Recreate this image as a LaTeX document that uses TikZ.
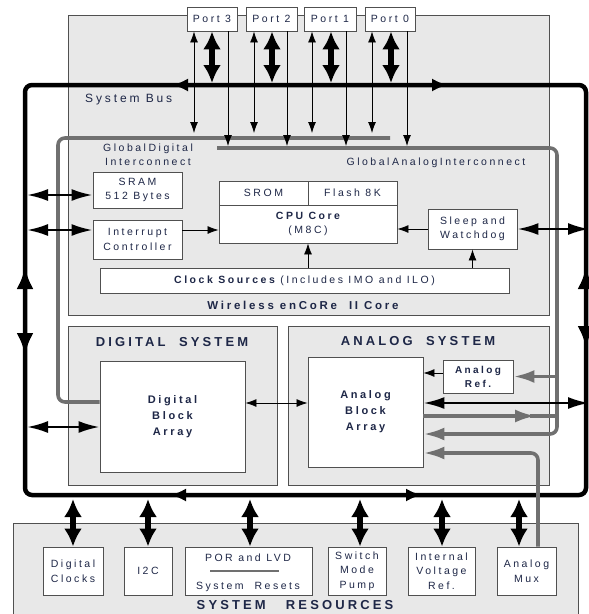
\documentclass[tikz,border=0pt]{standalone}
\usepackage{fontspec}
\setmainfont{Liberation Sans}
\newfontfamily\rg[LetterSpace=24]{Liberation Sans}
\usetikzlibrary{arrows.meta}
\definecolor{txt}{HTML}{1E2747}
\definecolor{bgray}{HTML}{E8E8E8}
\definecolor{edge}{HTML}{505050}
\definecolor{gline}{HTML}{707070}
\begin{document}
\begin{tikzpicture}[x=1pt,y=-1pt,
  gbox/.style={draw=edge, line width=0.9pt, fill=bgray, inner sep=0pt},
  wbox/.style={draw=edge, line width=0.9pt, fill=white, inner sep=0pt, align=center, text=txt,
    font=\rg\fontsize{10.5}{14.5}\selectfont},
  bbox/.style={wbox, font=\rg\bfseries\fontsize{11}{16}\selectfont},
  lbl/.style={inner sep=0pt, align=center, text=txt, font=\rg\fontsize{10.5}{14}\selectfont},
  ttl/.style={inner sep=0pt, text=txt, font=\rg\bfseries\fontsize{13}{15}\selectfont},
  bus/.style={line width=4.5pt, draw=black},
  gbus/.style={line width=3.6pt, draw=gline},
  garr/.style={gbus, -{Latex[length=21pt,width=13pt]}},
  thin/.style={line width=0.8pt, draw=black},
  tarr/.style={thin, -{Latex[length=11pt,width=8pt]}},
  tdbl/.style={thin, {Latex[length=11pt,width=8pt]}-{Latex[length=11pt,width=8pt]}},
  mdbl/.style={line width=2.4pt, {Latex[length=21pt,width=12pt]}-{Latex[length=21pt,width=12pt]}},
  fat/.style={line width=6.5pt, {Latex[length=18pt,width=18pt]}-{Latex[length=18pt,width=18pt]}},
  bhead/.style={bus, -{Latex[length=16pt,width=13pt]}},
  vhead/.style={bus, {Latex[length=22pt,width=17pt]}-{Latex[length=22pt,width=17pt]}}
]
\useasboundingbox (0,0) rectangle (589,614);

% ---- gray system areas
\node[gbox, minimum width=481pt, minimum height=300pt] (core) at (308.5,165) {};
\node[gbox, minimum width=209pt, minimum height=159pt] (dsys) at (172.5,405.5) {};
\node[gbox, minimum width=261pt, minimum height=159pt] (asys) at (418.5,405.5) {};
\node[gbox, minimum width=565pt, minimum height=117pt] (sres) at (295.5,581.5) {};

% ---- ports
\node[wbox, minimum width=50pt, minimum height=24pt] (p3) at (212,19) {Port 3};
\node[wbox, minimum width=51pt, minimum height=24pt] (p2) at (271.5,19) {Port 2};
\node[wbox, minimum width=52pt, minimum height=24pt] (p1) at (330,19) {Port 1};
\node[wbox, minimum width=50pt, minimum height=24pt] (p0) at (390,19) {Port 0};

% ---- core blocks
\node[wbox, minimum width=89pt, minimum height=36pt] (sram) at (137.5,190) {SRAM\\512 Bytes};
\node[wbox, minimum width=89pt, minimum height=39pt] (intr) at (137.5,239.5) {Interrupt\\Controller};
\node[wbox, minimum width=89pt, minimum height=24pt] (srom) at (263.5,193) {SROM};
\node[wbox, minimum width=89pt, minimum height=24pt] (flash) at (352.5,193) {Flash 8K};
\node[wbox, minimum width=178pt, minimum height=38pt] (cpu) at (308,224) {{\bfseries CPU Core}\\(M8C)};
\node[wbox, minimum width=89pt, minimum height=40pt] (sleep) at (472.5,229) {Sleep and\\Watchdog};
\node[wbox, minimum width=409pt, minimum height=25pt] (clk) at (304.5,280.5) {{\bfseries Clock Sources} (Includes IMO and ILO)};

% ---- digital / analog blocks
\node[bbox, minimum width=145pt, minimum height=111pt] (dba) at (172.5,416.5) {Digital\\Block\\Array};
\node[bbox, minimum width=115pt, minimum height=110pt] (aba) at (365.5,412) {Analog\\Block\\Array};
\node[wbox, font=\rg\bfseries\fontsize{10}{14}\selectfont, minimum width=70pt, minimum height=33pt] (aref) at (478,376.5) {Analog\\Ref.};

% ---- system resources blocks
\node[wbox, minimum width=60pt, minimum height=48pt] (dclk) at (73,571) {Digital\\Clocks};
\node[wbox, minimum width=48pt, minimum height=48pt] (i2c) at (148,571) {I2C};
\node[wbox, minimum width=127pt, minimum height=48pt] (por) at (248.5,571) {};
\node[lbl] (porA) at (248,558) {POR and LVD};
\node[lbl] (porB) at (248,587) {System\ \ Resets};
\draw[draw=gline, line width=1.5pt] (210,571) -- (279,571);
\node[wbox, minimum width=58pt, minimum height=48pt] (smp) at (357,571) {Switch\\Mode\\Pump};
\node[wbox, minimum width=67pt, minimum height=48pt] (ivr) at (441.5,571) {Internal\\Voltage\\Ref.};
\node[wbox, minimum width=59pt, minimum height=48pt] (amux) at (526.5,571) {Analog\\Mux};

% ---- labels
\node[lbl, anchor=west, font=\rg\fontsize{12}{14}\selectfont] (sbus) at (85,100) {System Bus};
\node[lbl] (gdi) at (148,155) {GlobalDigital\\Interconnect};
\node[lbl] (gai) at (436,163) {GlobalAnalogInterconnect};
\node[ttl, font=\rg\bfseries\fontsize{11.5}{14}\selectfont] (wcore) at (303,305) {Wireless enCoRe\ \ II Core};
\node[ttl] (dtitle) at (172,342) {DIGITAL\ \ SYSTEM};
\node[ttl] (atitle) at (418,341) {ANALOG\ \ SYSTEM};
\node[ttl, font=\rg\bfseries\fontsize{13}{15}\selectfont] (rtitle) at (295,605.5) {SYSTEM\ \ \ RESOURCES};

% ---- global interconnects (gray)
\coordinate (gdA) at (390,138);
\coordinate (gaA) at (217,148);
\draw[gbus, rounded corners=7pt] (gdA) -- (58,138) -- (58,402) -- (dba.west |- 0,402);
\draw[garr, rounded corners=7pt] (gaA) -- (557,148) -- (557,434) -- (aba.east |- 0,434);
\draw[garr] (557,376.5) -- (aref.east);
\draw[garr] (aba.east |- 0,416) -- (536,416);
\draw[gbus] (530,416) -- (557,416);

% ---- system bus
\draw[bus, rounded corners=7pt] (25,300) -- (25,85) -- (586,85) -- (586,495) -- (25,495) -- cycle;
\draw[bhead] (200,85) -- (172,85);
\draw[bhead] (420,85) -- (448,85);
\draw[bhead] (200,495) -- (170,495);
\draw[bhead] (395,495) -- (422,495);
\draw[vhead] (25,267) -- (25,355);
\draw[vhead] (586,267) -- (586,348);

% analog mux gray line (over bus)
\draw[garr, rounded corners=7pt] (amux.north -| 538,0) -- (538,453) -- (aba.east |- 0,453);

% ---- port connections
\foreach \p/\a/\b/\c in {p3/194/212/228, p2/254/272/287, p1/312/331/346, p0/372/391/407}{
  \draw[tdbl] (\p.south -| \a,0) -- (\a,133);
  \draw[fat] (\p.south -| \b,0) -- (\b,83);
  \draw[tarr] (\p.south -| \c,0) -- (\c,146);
}

% ---- core connections
\draw[mdbl] (27,195) -- (sram.west |- 0,195);
\draw[mdbl] (27,230) -- (intr.west |- 0,230);
\draw[tarr] (intr.east |- 0,230) -- (cpu.west |- 0,230);
\draw[tarr] (sleep.west) -- (cpu.east |- sleep.west);
\draw[mdbl] (sleep.east) -- (589,229);
\draw[tarr] (clk.north -| 308,0) -- (cpu.south -| 308,0);
\draw[tarr] (clk.north -| sleep.south) -- (sleep.south);

% ---- digital / analog connections
\draw[mdbl] (27,427) -- (dba.west |- 0,427);
\draw[tdbl] (dba.east |- 0,403) -- (aba.west |- 0,403);
\draw[tarr] (aref.west |- 0,373) -- (aba.east |- 0,373);
\draw[mdbl] (aba.east |- 0,403) -- (589,403);

% ---- system resources connections
\draw[fat] (73,499) -- (dclk.north -| 73,0);
\draw[fat] (148,499) -- (i2c.north);
\draw[fat] (250,499) -- (por.north -| 250,0);
\draw[fat] (360,499) -- (smp.north -| 360,0);
\draw[fat] (442,499) -- (ivr.north -| 442,0);
\draw[fat] (519,499) -- (amux.north -| 519,0);
\end{tikzpicture}
\end{document}
